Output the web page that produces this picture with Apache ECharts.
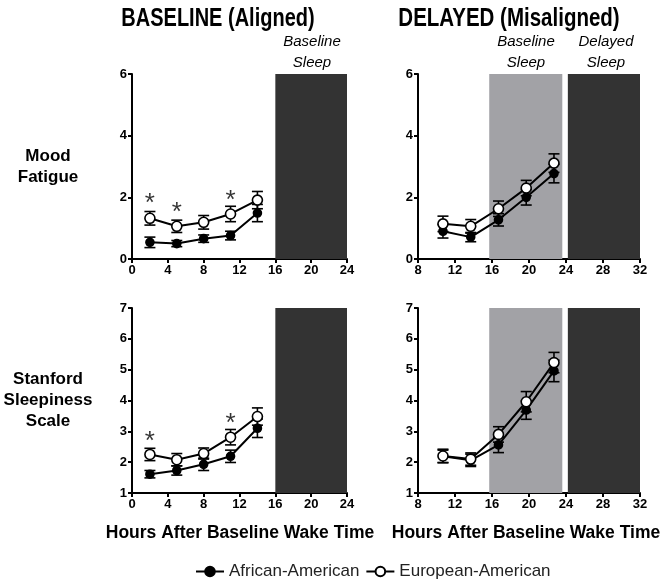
<!DOCTYPE html>
<html>
<head>
<meta charset="utf-8">
<script src="https://cdn.jsdelivr.net/npm/echarts@6/dist/echarts.min.js"></script>
<style>html,body{margin:0;padding:0;background:#fff}#c{width:665px;height:585px}</style>
</head>
<body>
<div id="c"></div>
<script>
// ---- data ----
var seriesNames = ['African-American', 'European-American'];
var baseHours = [2, 5, 8, 11, 14];
var delayHours = [10.7, 13.7, 16.7, 19.7, 22.7];

// Mood Fatigue, baseline
var moodBaseAA = [0.54, 0.50, 0.66, 0.76, 1.49];
var moodBaseAAerr = [0.17, 0.10, 0.12, 0.14, 0.28];
var moodBaseEA = [1.32, 1.06, 1.19, 1.46, 1.91];
var moodBaseEAerr = [0.22, 0.20, 0.22, 0.25, 0.28];
// Mood Fatigue, delayed
var moodDelAA = [0.90, 0.71, 1.27, 2.00, 2.77];
var moodDelAAerr = [0.22, 0.15, 0.20, 0.25, 0.30];
var moodDelEA = [1.14, 1.06, 1.63, 2.30, 3.11];
var moodDelEAerr = [0.25, 0.22, 0.25, 0.25, 0.30];
// Stanford Sleepiness Scale, baseline
var sssBaseAA = [1.61, 1.73, 1.93, 2.19, 3.10];
var sssBaseAAerr = [0.12, 0.15, 0.20, 0.20, 0.30];
var sssBaseEA = [2.25, 2.08, 2.28, 2.81, 3.48];
var sssBaseEAerr = [0.20, 0.20, 0.18, 0.25, 0.28];
// Stanford Sleepiness Scale, delayed
var sssDelAA = [2.19, 2.06, 2.56, 3.69, 4.96];
var sssDelAAerr = [0.20, 0.20, 0.25, 0.30, 0.35];
var sssDelEA = [2.20, 2.10, 2.90, 3.96, 5.23];
var sssDelEAerr = [0.22, 0.20, 0.25, 0.33, 0.33];

// significance markers (*)
var moodStarX = [2, 5, 11];
var moodStarY = [2.03, 1.73, 2.10];
var sssStarX = [2, 11];
var sssStarY = [2.88, 3.47];

// sleep periods
var baseSleep = [16, 24];
var delBaseSleep = [15.7, 23.6];
var delDelSleep = [24.2, 32];

// axis ticks
var baseXTicks = [0, 24, 4];
var delXTicks = [8, 32, 4];
var moodYTicks = [0, 6, 2];
var sssYTicks = [1, 7, 1];

// ---- chart ----
var FONT = 'Liberation Sans, Arial, sans-serif';
var chart = echarts.init(document.getElementById('c'), null, {renderer: 'canvas'});

var grids = [
  {left: 132, top: 74, width: 215, height: 185},
  {left: 418, top: 74, width: 222, height: 185},
  {left: 132, top: 308, width: 215, height: 185},
  {left: 418, top: 308, width: 222, height: 185}
];

function xAxis(i, t) {
  return {
    gridIndex: i, type: 'value', min: t[0], max: t[1], interval: t[2],
    axisLine: {onZero: false, lineStyle: {color: '#000', width: 2}},
    axisTick: {length: 4, lineStyle: {color: '#000', width: 2}},
    axisLabel: {color: '#000', fontWeight: 'bold', fontSize: 13, fontFamily: FONT, margin: 5},
    splitLine: {show: false}
  };
}
function yAxis(i, t) {
  return {
    gridIndex: i, type: 'value', min: t[0], max: t[1], interval: t[2],
    axisLine: {show: true, onZero: false, lineStyle: {color: '#000', width: 2}},
    axisTick: {show: true, length: 4, lineStyle: {color: '#000', width: 2}},
    axisLabel: {color: '#000', fontWeight: 'bold', fontSize: 13, fontFamily: FONT, margin: 5},
    splitLine: {show: false}
  };
}

function pairs(xs, ys) { return xs.map(function (x, k) { return [x, ys[k]]; }); }

function errSeries(i, xs, ys, es) {
  return {
    type: 'custom', xAxisIndex: i, yAxisIndex: i, z: 3, silent: true,
    data: xs.map(function (x, k) { return [x, ys[k] - es[k], ys[k] + es[k]]; }),
    renderItem: function (params, api) {
      var lo = api.coord([api.value(0), api.value(1)]);
      var hi = api.coord([api.value(0), api.value(2)]);
      var w = 5.5;
      var st = {stroke: '#000', lineWidth: 1.6};
      return {type: 'group', children: [
        {type: 'line', shape: {x1: lo[0], y1: lo[1], x2: hi[0], y2: hi[1]}, style: st},
        {type: 'line', shape: {x1: lo[0] - w, y1: lo[1], x2: lo[0] + w, y2: lo[1]}, style: st},
        {type: 'line', shape: {x1: hi[0] - w, y1: hi[1], x2: hi[0] + w, y2: hi[1]}, style: st}
      ]};
    }
  };
}

function lineSeries(i, name, xs, ys, filled, areas) {
  var s = {
    type: 'line', name: name, xAxisIndex: i, yAxisIndex: i,
    data: pairs(xs, ys), z: filled ? 4 : 5,
    symbol: 'circle', symbolSize: filled ? 8 : 10,
    lineStyle: {color: '#000', width: 2},
    itemStyle: {color: filled ? '#000' : '#fff', borderColor: '#000', borderWidth: 1.6},
    emphasis: {disabled: true}, animation: false
  };
  if (areas) {
    s.markArea = {silent: true, z: 1, data: areas};
  }
  return s;
}

function starSeries(i, xs, ys) {
  return {
    type: 'scatter', xAxisIndex: i, yAxisIndex: i, symbolSize: 1, silent: true,
    itemStyle: {color: 'rgba(0,0,0,0)'},
    data: pairs(xs, ys),
    label: {show: true, position: 'inside', formatter: '*', color: '#000',
      fontSize: 26, fontFamily: FONT, offset: [0, 7]}
  };
}

function area(range, color) {
  return [{xAxis: range[0], itemStyle: {color: color, opacity: 1}}, {xAxis: range[1]}];
}

var DARK = '#333333', LIGHT = '#a2a2a6';

var series = [
  errSeries(0, baseHours, moodBaseAA, moodBaseAAerr),
  errSeries(0, baseHours, moodBaseEA, moodBaseEAerr),
  lineSeries(0, seriesNames[0], baseHours, moodBaseAA, true, [area(baseSleep, DARK)]),
  lineSeries(0, seriesNames[1], baseHours, moodBaseEA, false),
  starSeries(0, moodStarX, moodStarY),

  errSeries(1, delayHours, moodDelAA, moodDelAAerr),
  errSeries(1, delayHours, moodDelEA, moodDelEAerr),
  lineSeries(1, seriesNames[0], delayHours, moodDelAA, true, [area(delBaseSleep, LIGHT), area(delDelSleep, DARK)]),
  lineSeries(1, seriesNames[1], delayHours, moodDelEA, false),

  errSeries(2, baseHours, sssBaseAA, sssBaseAAerr),
  errSeries(2, baseHours, sssBaseEA, sssBaseEAerr),
  lineSeries(2, seriesNames[0], baseHours, sssBaseAA, true, [area(baseSleep, DARK)]),
  lineSeries(2, seriesNames[1], baseHours, sssBaseEA, false),
  starSeries(2, sssStarX, sssStarY),

  errSeries(3, delayHours, sssDelAA, sssDelAAerr),
  errSeries(3, delayHours, sssDelEA, sssDelEAerr),
  lineSeries(3, seriesNames[0], delayHours, sssDelAA, true, [area(delBaseSleep, LIGHT), area(delDelSleep, DARK)]),
  lineSeries(3, seriesNames[1], delayHours, sssDelEA, false)
];

function txt(x, y, text, font, sx) {
  return {type: 'text', x: x, y: y, scaleX: sx || 1, silent: true,
    style: {text: text, font: font, fill: '#000', textAlign: 'center', textVerticalAlign: 'middle', lineHeight: 21}};
}
var TITLE_FONT = 'bold 25px "Liberation Sans", Arial, sans-serif';
var LAB_FONT = 'bold 17px Liberation Sans, Arial, sans-serif';
var AX_FONT = 'bold 17.5px Liberation Sans, Arial, sans-serif';
var ITAL_FONT = 'italic 15px Liberation Sans, Arial, sans-serif';

var option = {
  animation: false,
  backgroundColor: '#fff',
  grid: grids,
  xAxis: [xAxis(0, baseXTicks), xAxis(1, delXTicks), xAxis(2, baseXTicks), xAxis(3, delXTicks)],
  yAxis: [yAxis(0, moodYTicks), yAxis(1, moodYTicks), yAxis(2, sssYTicks), yAxis(3, sssYTicks)],
  legend: {
    data: seriesNames, bottom: 0, left: 190, itemWidth: 28, itemHeight: 12, itemGap: 6,
    textStyle: {fontSize: 17, color: '#222', fontFamily: FONT},
    selectedMode: false
  },
  graphic: [
    txt(218, 19, 'BASELINE (Aligned)', TITLE_FONT, 0.8),
    txt(509, 19, 'DELAYED (Misaligned)', TITLE_FONT, 0.82),
    txt(312, 52, 'Baseline\nSleep', ITAL_FONT),
    txt(526, 52, 'Baseline\nSleep', ITAL_FONT),
    txt(606, 52, 'Delayed\nSleep', ITAL_FONT),
    txt(48, 167, 'Mood\nFatigue', LAB_FONT),
    txt(48, 400, 'Stanford\nSleepiness\nScale', LAB_FONT),
    txt(240, 533, 'Hours After Baseline Wake Time', AX_FONT),
    txt(526, 533, 'Hours After Baseline Wake Time', AX_FONT)
  ],
  series: series
};
chart.setOption(option);
</script>
</body>
</html>
